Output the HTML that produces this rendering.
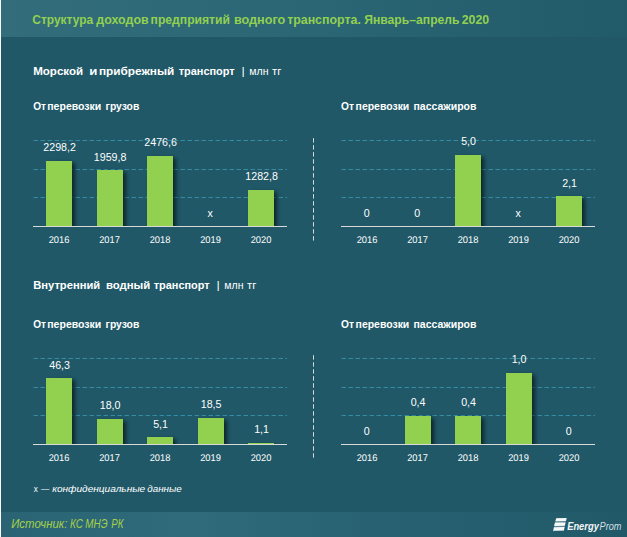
<!DOCTYPE html>
<html lang="ru">
<head>
<meta charset="utf-8">
<title>Структура доходов предприятий водного транспорта</title>
<style>
html,body{margin:0;padding:0;background:#205867;}
body{width:627px;height:537px;overflow:hidden;}
svg{display:block;font-family:"Liberation Sans",sans-serif;}
</style>
</head>
<body>
<svg width="627" height="537" viewBox="0 0 627 537">
<defs>
<linearGradient id="gtop" x1="0" y1="0" x2="1" y2="0">
<stop offset="0" stop-color="#336d7b"/><stop offset="0.5" stop-color="#2b6675"/><stop offset="1" stop-color="#215a69"/>
</linearGradient>
<linearGradient id="gbot" x1="0" y1="0" x2="1" y2="0">
<stop offset="0" stop-color="#2a6474"/><stop offset="0.3" stop-color="#2f6b7b"/><stop offset="0.6" stop-color="#286272"/><stop offset="1" stop-color="#215968"/>
</linearGradient>
<filter id="sh" x="-30%" y="-10%" width="170%" height="125%">
<feDropShadow dx="3" dy="2" stdDeviation="1.9" flood-color="#000" flood-opacity="0.58"/>
</filter>
</defs>
<rect x="0" y="0" width="627" height="537" fill="#205867"/>
<rect x="0" y="0" width="627" height="37" fill="url(#gtop)"/>
<rect x="0" y="512" width="627" height="25" fill="url(#gbot)"/>
<rect x="0" y="0" width="1" height="537" fill="#ffffff"/>

<text y="24" font-size="12.5" fill="#92D050" font-weight="bold"><tspan x="32.22" textLength="61.07" lengthAdjust="spacingAndGlyphs">Структура</tspan> <tspan x="96.34" textLength="52.36" lengthAdjust="spacingAndGlyphs">доходов</tspan> <tspan x="150.55" textLength="79.48" lengthAdjust="spacingAndGlyphs">предприятий</tspan> <tspan x="233.91" textLength="51.43" lengthAdjust="spacingAndGlyphs">водного</tspan> <tspan x="287.13" textLength="73.72" lengthAdjust="spacingAndGlyphs">транспорта.</tspan> <tspan x="364.16" textLength="95.42" lengthAdjust="spacingAndGlyphs">Январь–апрель</tspan> <tspan x="461.77" textLength="27.42" lengthAdjust="spacingAndGlyphs">2020</tspan></text>
<text y="75" font-size="11.5" fill="#ffffff" font-weight="bold"><tspan x="33.15" textLength="50.05" lengthAdjust="spacingAndGlyphs">Морской</tspan> <tspan x="89.17" textLength="8.15" lengthAdjust="spacingAndGlyphs">и</tspan> <tspan x="98.97" textLength="75.33" lengthAdjust="spacingAndGlyphs">прибрежный</tspan> <tspan x="178.67" textLength="56.05" lengthAdjust="spacingAndGlyphs">транспорт</tspan></text>
<text y="74.8" font-size="11.5" fill="#ffffff"><tspan x="241.57" textLength="3.25" lengthAdjust="spacingAndGlyphs">|</tspan></text>
<text y="75" font-size="10.5" fill="#ffffff"><tspan x="249.26" textLength="19.26" lengthAdjust="spacingAndGlyphs">млн</tspan> <tspan x="272.03" textLength="9.39" lengthAdjust="spacingAndGlyphs">тг</tspan></text>
<text y="110" font-size="10.5" fill="#ffffff" font-weight="bold"><tspan x="33.20" textLength="12.78" lengthAdjust="spacingAndGlyphs">От</tspan> <tspan x="47.26" textLength="54.06" lengthAdjust="spacingAndGlyphs">перевозки</tspan> <tspan x="105.57" textLength="33.74" lengthAdjust="spacingAndGlyphs">грузов</tspan></text>
<text y="110" font-size="10.5" fill="#ffffff" font-weight="bold"><tspan x="341.09" textLength="12.89" lengthAdjust="spacingAndGlyphs">От</tspan> <tspan x="355.57" textLength="53.75" lengthAdjust="spacingAndGlyphs">перевозки</tspan> <tspan x="413.47" textLength="62.97" lengthAdjust="spacingAndGlyphs">пассажиров</tspan></text>
<text y="289" font-size="11.5" fill="#ffffff" font-weight="bold"><tspan x="33.17" textLength="67.10" lengthAdjust="spacingAndGlyphs">Внутренний</tspan> <tspan x="105.90" textLength="44.41" lengthAdjust="spacingAndGlyphs">водный</tspan> <tspan x="153.67" textLength="56.05" lengthAdjust="spacingAndGlyphs">транспорт</tspan></text>
<text y="288.8" font-size="11.5" fill="#ffffff"><tspan x="216.57" textLength="3.25" lengthAdjust="spacingAndGlyphs">|</tspan></text>
<text y="289" font-size="10.5" fill="#ffffff"><tspan x="224.26" textLength="19.26" lengthAdjust="spacingAndGlyphs">млн</tspan> <tspan x="247.03" textLength="9.39" lengthAdjust="spacingAndGlyphs">тг</tspan></text>
<text y="327.8" font-size="10.5" fill="#ffffff" font-weight="bold"><tspan x="33.20" textLength="12.78" lengthAdjust="spacingAndGlyphs">От</tspan> <tspan x="47.26" textLength="54.06" lengthAdjust="spacingAndGlyphs">перевозки</tspan> <tspan x="105.57" textLength="33.74" lengthAdjust="spacingAndGlyphs">грузов</tspan></text>
<text y="327.8" font-size="10.5" fill="#ffffff" font-weight="bold"><tspan x="341.09" textLength="12.89" lengthAdjust="spacingAndGlyphs">От</tspan> <tspan x="355.57" textLength="53.75" lengthAdjust="spacingAndGlyphs">перевозки</tspan> <tspan x="413.47" textLength="62.97" lengthAdjust="spacingAndGlyphs">пассажиров</tspan></text>
<line x1="313.5" y1="138.1" x2="313.5" y2="240.7" stroke="#d6d8d8" stroke-width="1" stroke-dasharray="4.5 2.5"/>
<line x1="313.5" y1="355.2" x2="313.5" y2="457.8" stroke="#d6d8d8" stroke-width="1" stroke-dasharray="4.5 2.5"/>
<line x1="33.5" y1="197.5" x2="287.0" y2="197.5" stroke="#358ba3" stroke-width="1" stroke-dasharray="4.5 2.5"/>
<line x1="33.5" y1="169.5" x2="287.0" y2="169.5" stroke="#358ba3" stroke-width="1" stroke-dasharray="4.5 2.5"/>
<line x1="33.5" y1="140.5" x2="287.0" y2="140.5" stroke="#358ba3" stroke-width="1" stroke-dasharray="4.5 2.5"/>
<clipPath id="c1"><rect x="33" y="116" width="264.0" height="110"/></clipPath>
<g clip-path="url(#c1)">
<rect x="46" y="161" width="26" height="69" fill="#92D050" filter="url(#sh)"/>
<rect x="97" y="170" width="26" height="60" fill="#92D050" filter="url(#sh)"/>
<rect x="147" y="156" width="26" height="74" fill="#92D050" filter="url(#sh)"/>
<rect x="248" y="190" width="26" height="40" fill="#92D050" filter="url(#sh)"/>
</g>
<text transform="translate(59.60,151.00) scale(0.97,1)" font-size="11" fill="#ffffff" text-anchor="middle">2298,2</text>
<text transform="translate(59.00,243.00) scale(0.95,1) rotate(0.03)" font-size="9.8" fill="#ffffff" text-anchor="middle">2016</text>
<text transform="translate(110.10,161.00) scale(0.97,1)" font-size="11" fill="#ffffff" text-anchor="middle">1959,8</text>
<text transform="translate(109.50,243.00) scale(0.95,1) rotate(0.03)" font-size="9.8" fill="#ffffff" text-anchor="middle">2017</text>
<text transform="translate(160.60,146.00) scale(0.97,1)" font-size="11" fill="#ffffff" text-anchor="middle">2476,6</text>
<text transform="translate(160.00,243.00) scale(0.95,1) rotate(0.03)" font-size="9.8" fill="#ffffff" text-anchor="middle">2018</text>
<text transform="translate(210.20,216.50) scale(0.97,1)" font-size="11" fill="#ffffff" text-anchor="middle">x</text>
<text transform="translate(210.50,243.00) scale(0.95,1) rotate(0.03)" font-size="9.8" fill="#ffffff" text-anchor="middle">2019</text>
<text transform="translate(261.60,180.00) scale(0.97,1)" font-size="11" fill="#ffffff" text-anchor="middle">1282,8</text>
<text transform="translate(261.00,243.00) scale(0.95,1) rotate(0.03)" font-size="9.8" fill="#ffffff" text-anchor="middle">2020</text>
<rect x="33" y="226" width="254.0" height="1" fill="#d9d9d9"/>
<line x1="341.5" y1="197.5" x2="595.0" y2="197.5" stroke="#358ba3" stroke-width="1" stroke-dasharray="4.5 2.5"/>
<line x1="341.5" y1="169.5" x2="595.0" y2="169.5" stroke="#358ba3" stroke-width="1" stroke-dasharray="4.5 2.5"/>
<line x1="341.5" y1="140.5" x2="595.0" y2="140.5" stroke="#358ba3" stroke-width="1" stroke-dasharray="4.5 2.5"/>
<clipPath id="c2"><rect x="341" y="116" width="264.0" height="110"/></clipPath>
<g clip-path="url(#c2)">
<rect x="455" y="155" width="26" height="75" fill="#92D050" filter="url(#sh)"/>
<rect x="556" y="196" width="26" height="34" fill="#92D050" filter="url(#sh)"/>
</g>
<text transform="translate(366.70,216.50) scale(0.97,1)" font-size="11" fill="#ffffff" text-anchor="middle">0</text>
<text transform="translate(367.00,243.00) scale(0.95,1) rotate(0.03)" font-size="9.8" fill="#ffffff" text-anchor="middle">2016</text>
<text transform="translate(417.20,216.50) scale(0.97,1)" font-size="11" fill="#ffffff" text-anchor="middle">0</text>
<text transform="translate(417.50,243.00) scale(0.95,1) rotate(0.03)" font-size="9.8" fill="#ffffff" text-anchor="middle">2017</text>
<text transform="translate(468.60,145.00) scale(0.97,1)" font-size="11" fill="#ffffff" text-anchor="middle">5,0</text>
<text transform="translate(468.00,243.00) scale(0.95,1) rotate(0.03)" font-size="9.8" fill="#ffffff" text-anchor="middle">2018</text>
<text transform="translate(518.20,216.50) scale(0.97,1)" font-size="11" fill="#ffffff" text-anchor="middle">x</text>
<text transform="translate(518.50,243.00) scale(0.95,1) rotate(0.03)" font-size="9.8" fill="#ffffff" text-anchor="middle">2019</text>
<text transform="translate(569.60,187.00) scale(0.97,1)" font-size="11" fill="#ffffff" text-anchor="middle">2,1</text>
<text transform="translate(569.00,243.00) scale(0.95,1) rotate(0.03)" font-size="9.8" fill="#ffffff" text-anchor="middle">2020</text>
<rect x="341" y="226" width="254.0" height="1" fill="#d9d9d9"/>
<line x1="33.5" y1="415.5" x2="287.0" y2="415.5" stroke="#358ba3" stroke-width="1" stroke-dasharray="4.5 2.5"/>
<line x1="33.5" y1="387.5" x2="287.0" y2="387.5" stroke="#358ba3" stroke-width="1" stroke-dasharray="4.5 2.5"/>
<line x1="33.5" y1="358.5" x2="287.0" y2="358.5" stroke="#358ba3" stroke-width="1" stroke-dasharray="4.5 2.5"/>
<clipPath id="c3"><rect x="33" y="334" width="264.0" height="110"/></clipPath>
<g clip-path="url(#c3)">
<rect x="46" y="378" width="26" height="70" fill="#92D050" filter="url(#sh)"/>
<rect x="97" y="419" width="26" height="29" fill="#92D050" filter="url(#sh)"/>
<rect x="147" y="437" width="26" height="11" fill="#92D050" filter="url(#sh)"/>
<rect x="198" y="418" width="26" height="30" fill="#92D050" filter="url(#sh)"/>
<rect x="248" y="443" width="26" height="5" fill="#92D050" filter="url(#sh)"/>
</g>
<text transform="translate(59.60,369.00) scale(0.97,1)" font-size="11" fill="#ffffff" text-anchor="middle">46,3</text>
<text transform="translate(59.00,461.00) scale(0.95,1) rotate(0.03)" font-size="9.8" fill="#ffffff" text-anchor="middle">2016</text>
<text transform="translate(110.10,409.00) scale(0.97,1)" font-size="11" fill="#ffffff" text-anchor="middle">18,0</text>
<text transform="translate(109.50,461.00) scale(0.95,1) rotate(0.03)" font-size="9.8" fill="#ffffff" text-anchor="middle">2017</text>
<text transform="translate(160.60,428.00) scale(0.97,1)" font-size="11" fill="#ffffff" text-anchor="middle">5,1</text>
<text transform="translate(160.00,461.00) scale(0.95,1) rotate(0.03)" font-size="9.8" fill="#ffffff" text-anchor="middle">2018</text>
<text transform="translate(211.10,408.00) scale(0.97,1)" font-size="11" fill="#ffffff" text-anchor="middle">18,5</text>
<text transform="translate(210.50,461.00) scale(0.95,1) rotate(0.03)" font-size="9.8" fill="#ffffff" text-anchor="middle">2019</text>
<text transform="translate(261.60,433.00) scale(0.97,1)" font-size="11" fill="#ffffff" text-anchor="middle">1,1</text>
<text transform="translate(261.00,461.00) scale(0.95,1) rotate(0.03)" font-size="9.8" fill="#ffffff" text-anchor="middle">2020</text>
<rect x="33" y="444" width="254.0" height="1" fill="#d9d9d9"/>
<line x1="341.5" y1="415.5" x2="595.0" y2="415.5" stroke="#358ba3" stroke-width="1" stroke-dasharray="4.5 2.5"/>
<line x1="341.5" y1="387.5" x2="595.0" y2="387.5" stroke="#358ba3" stroke-width="1" stroke-dasharray="4.5 2.5"/>
<line x1="341.5" y1="358.5" x2="595.0" y2="358.5" stroke="#358ba3" stroke-width="1" stroke-dasharray="4.5 2.5"/>
<clipPath id="c4"><rect x="341" y="334" width="264.0" height="110"/></clipPath>
<g clip-path="url(#c4)">
<rect x="405" y="416" width="26" height="32" fill="#92D050" filter="url(#sh)"/>
<rect x="455" y="416" width="26" height="32" fill="#92D050" filter="url(#sh)"/>
<rect x="506" y="373" width="26" height="75" fill="#92D050" filter="url(#sh)"/>
</g>
<text transform="translate(366.70,434.50) scale(0.97,1)" font-size="11" fill="#ffffff" text-anchor="middle">0</text>
<text transform="translate(367.00,461.00) scale(0.95,1) rotate(0.03)" font-size="9.8" fill="#ffffff" text-anchor="middle">2016</text>
<text transform="translate(418.10,406.00) scale(0.97,1)" font-size="11" fill="#ffffff" text-anchor="middle">0,4</text>
<text transform="translate(417.50,461.00) scale(0.95,1) rotate(0.03)" font-size="9.8" fill="#ffffff" text-anchor="middle">2017</text>
<text transform="translate(468.60,406.00) scale(0.97,1)" font-size="11" fill="#ffffff" text-anchor="middle">0,4</text>
<text transform="translate(468.00,461.00) scale(0.95,1) rotate(0.03)" font-size="9.8" fill="#ffffff" text-anchor="middle">2018</text>
<text transform="translate(519.10,363.00) scale(0.97,1)" font-size="11" fill="#ffffff" text-anchor="middle">1,0</text>
<text transform="translate(518.50,461.00) scale(0.95,1) rotate(0.03)" font-size="9.8" fill="#ffffff" text-anchor="middle">2019</text>
<text transform="translate(568.70,434.50) scale(0.97,1)" font-size="11" fill="#ffffff" text-anchor="middle">0</text>
<text transform="translate(569.00,461.00) scale(0.95,1) rotate(0.03)" font-size="9.8" fill="#ffffff" text-anchor="middle">2020</text>
<rect x="341" y="444" width="254.0" height="1" fill="#d9d9d9"/>
<text y="491.7" font-size="9.3" fill="#ffffff"><tspan x="33.72" textLength="4.06" lengthAdjust="spacingAndGlyphs">x</tspan></text>
<text y="491.7" font-size="9.3" fill="#ffffff" font-style="italic"><tspan x="40.94" textLength="8.32" lengthAdjust="spacingAndGlyphs">—</tspan> <tspan x="52.15" textLength="93.10" lengthAdjust="spacingAndGlyphs">конфиденциальные</tspan> <tspan x="147.20" textLength="34.56" lengthAdjust="spacingAndGlyphs">данные</tspan></text>
<text y="528.4" font-size="12" fill="#a6d04a" font-style="italic"><tspan x="11.16" textLength="56.17" lengthAdjust="spacingAndGlyphs">Источник:</tspan> <tspan x="69.90" textLength="12.95" lengthAdjust="spacingAndGlyphs">КС</tspan> <tspan x="85.20" textLength="22.34" lengthAdjust="spacingAndGlyphs">МНЭ</tspan> <tspan x="111.21" textLength="12.17" lengthAdjust="spacingAndGlyphs">РК</tspan></text>
<g transform="translate(553,518)">
<path d="M3.3 0.2 L13.7 0 L10.9 12.8 L0.6 13.0 L0 13.9 L0.3 12.4 Z" fill="#ffffff" fill-opacity="0.28"/>
<path d="M3.2 0.3 L13.6 0.1 L12.9 3.1 L2.3 3.3 Z" fill="#f6f9fa"/>
<path d="M1.9 4.6 L12.5 4.4 L11.8 7.7 L1.1 7.9 Z" fill="#f6f9fa"/>
<path d="M0.9 9.2 L11.6 9.0 L10.9 12.5 L0.5 12.8 L0 13.9 Z" fill="#f6f9fa"/>
</g>
<text y="530.1" font-size="10.2" fill="#f4f7f8" font-weight="bold" font-style="italic"><tspan x="567.21" textLength="31.62" lengthAdjust="spacingAndGlyphs">Energy</tspan></text>
<text y="530.1" font-size="10.2" fill="#d3dee2" font-style="italic"><tspan x="599.52" textLength="21.93" lengthAdjust="spacingAndGlyphs">Prom</tspan></text>
</svg>
</body>
</html>
